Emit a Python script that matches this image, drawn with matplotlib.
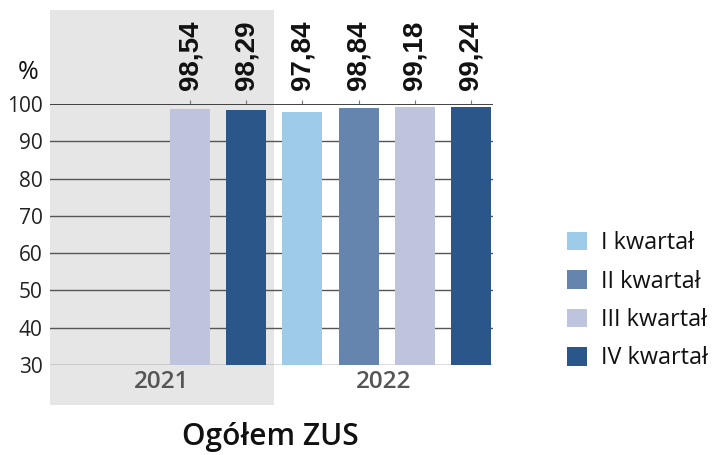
import matplotlib
matplotlib.use("Agg")
import matplotlib.pyplot as plt
from matplotlib.patches import Rectangle, Patch

years = ["2021", "2022"]
quarters = ["I kwartał", "II kwartał", "III kwartał", "IV kwartał"]
quarter_colors = ["#9ECBE7", "#6585AE", "#BEC4DB", "#2B5689"]
# (year index, quarter index, value)
bar_year = [0, 0, 1, 1, 1, 1]
bar_quarter = [2, 3, 0, 1, 2, 3]
bar_values = [98.54, 98.29, 97.84, 98.84, 99.18, 99.24]
bar_labels = ["98,54", "98,29", "97,84", "98,84", "99,18", "99,24"]
y_ticks = [30, 40, 50, 60, 70, 80, 90, 100]
title = "Ogółem ZUS"

fig = plt.figure(figsize=(7.23, 4.55), dpi=100)
ax = fig.add_axes([0.0685, 0.1978, 0.6140, 0.5736])
ax.set_facecolor("none")

positions = [y * 4 + q for y, q in zip(bar_year, bar_quarter)]
colors = [quarter_colors[q] for q in bar_quarter]
ax.bar(positions, [v - 30 for v in bar_values], bottom=30, width=0.71,
       color=colors, zorder=3)

ax.set_xlim(-0.5, 7.4)
ax.set_ylim(30, 100)
ax.set_yticks(y_ticks)
ax.set_yticklabels([str(t) for t in y_ticks], family="Open Sans", fontsize=15, color="#222222")
ax.tick_params(axis="y", length=0, pad=5)
for t in y_ticks:
    ax.axhline(t, color="#555555" if t < 100 else "#333333", lw=1.0 if t < 100 else 1.3, zorder=2)
for s in ax.spines.values():
    s.set_visible(False)

# top ticks at bar positions
ax.set_xticks(positions)
ax.xaxis.set_ticks_position("top")
ax.tick_params(axis="x", length=3, width=0.8, color="#777777", labeltop=False, labelbottom=False, direction="out")

# gray 2021 region
ax.add_patch(Rectangle((-0.5, 19.3), 4, 105.9, facecolor="#E6E6E6", edgecolor="none",
                       clip_on=False, zorder=0))

# year labels
for i, yr in enumerate(years):
    ax.text(1.5 if i == 0 else 5.45, 25.4, yr, ha="center", va="center",
            family="Open Sans", fontweight="semibold", fontsize=17.5, color="#555555")

# value labels
for p, lab in zip(positions, bar_labels):
    ax.annotate(lab, xy=(p, 100), xytext=(0, 10), textcoords="offset points",
                rotation=90, ha="center", va="bottom", family="Liberation Sans",
                fontweight="bold", fontsize=20, color="#111111")

ax.text(-0.048, 1.119, "%", transform=ax.transAxes, ha="center", va="center",
        family="Open Sans", fontsize=18, color="#111111")

fig.text(0.374, 0.04, title, ha="center", va="center", family="Open Sans",
         fontweight="semibold", fontsize=21.5, color="#111111")

handles = [Patch(facecolor=c, edgecolor="none") for c in quarter_colors]
fig.legend(handles, quarters, loc="center left", bbox_to_anchor=(0.784, 0.339),
           frameon=False, prop={"family": "Open Sans", "size": 16.8},
           handlelength=0.85, handleheight=0.85, handletextpad=0.6, labelspacing=0.62,
           labelcolor="#111111", borderaxespad=0, borderpad=0)

fig.savefig("out.png", dpi=100)
